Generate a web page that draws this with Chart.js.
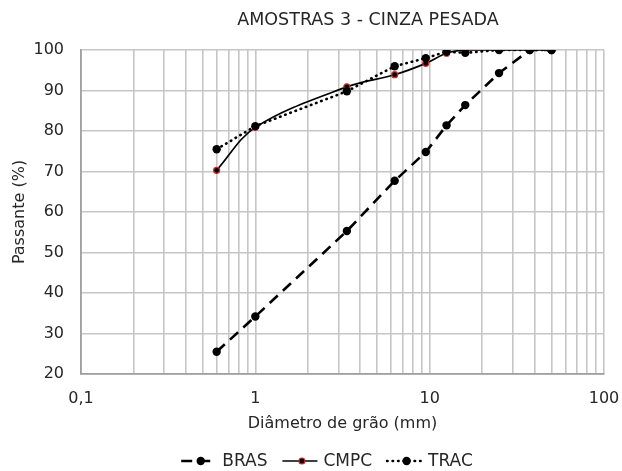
<!DOCTYPE html>
<html>
<head>
<meta charset="utf-8">
<script src="https://cdn.jsdelivr.net/npm/chart.js@4.4.1/dist/chart.umd.min.js"></script>
<style>
html,body{margin:0;padding:0;background:#fff;}
#wrap{width:622px;height:471px;position:relative;}
</style>
</head>
<body>
<div id="wrap"><canvas id="c" width="622" height="471"></canvas></div>
<script>
const chartTitle = 'AMOSTRAS 3 - CINZA PESADA';
const xTitle = 'Diâmetro de grão (mm)';
const yTitle = 'Passante (%)';
const diameters = [0.6, 1, 3.35, 6.3, 9.5, 12.5, 16, 25, 37.5, 50];
const bras = [25.5, 34.2, 55.3, 67.7, 74.8, 81.4, 86.4, 94.3, 100, 100];
const cmpc = [70.3, 80.9, 90.9, 93.9, 96.7, 99.2, 100, 100, 100, 100];
const trac = [75.5, 81.2, 89.8, 96.0, 98.0, 99.6, 99.3, 100, 100, 100];
const seriesNames = ['BRAS', 'CMPC', 'TRAC'];
const majorXTicks = [0.1, 1, 10, 100];
const majorXLabels = ['0,1', '1', '10', '100'];
const yMin = 20, yMax = 100, yStep = 10;

// grid ticks on log axis: 1..9 of each decade
const xGridTicks = [];
[0.1, 1, 10].forEach(d => { for (let k = 1; k < 10; k++) xGridTicks.push(+(k * d).toPrecision(3)); });
xGridTicks.push(100);

const FONT = '"DejaVu Sans", Verdana, sans-serif';
const TXT = '#262626';
const GRID = '#c6c6c6';

function pts(vals) { return diameters.map((d, i) => ({x: d, y: vals[i]})); }

const datasets = [
  {label: seriesNames[0], data: pts(bras), borderColor: '#000', backgroundColor: '#000',
   borderWidth: 2.6, borderDash: [11, 7], tension: 0, pointRadius: 4.2, pointBorderWidth: 0,
   pointBackgroundColor: '#000', order: 3},
  {label: seriesNames[1], data: pts(cmpc), borderColor: '#000', backgroundColor: '#000',
   borderWidth: 1.7, borderDash: [], tension: 0.35, pointRadius: 3, pointBorderWidth: 1.2,
   pointBackgroundColor: '#000', pointBorderColor: '#d02828', order: 2},
  {label: seriesNames[2], data: pts(trac), borderColor: '#000', backgroundColor: '#000',
   borderWidth: 2.6, borderDash: [0.5, 5], borderCapStyle: 'round', tension: 0, pointRadius: 4.2,
   pointBorderWidth: 0, pointBackgroundColor: '#000', order: 1}
];

const titlePlugin = {
  id: 'titlePlugin',
  afterDraw(chart) {
    const ctx = chart.ctx;
    ctx.save();
    ctx.font = '17.5px ' + FONT;
    ctx.fillStyle = TXT;
    ctx.textAlign = 'center';
    ctx.textBaseline = 'middle';
    ctx.fillText(chartTitle, 368, 20);
    ctx.restore();
  }
};

const legendPlugin = {
  id: 'legendPlugin',
  afterDraw(chart) {
    const ctx = chart.ctx;
    ctx.save();
    ctx.font = '17px ' + FONT;
    const symW = 35, gapT = 6, gapItem = 15;
    let total = 0;
    const widths = seriesNames.map(n => ctx.measureText(n).width);
    widths.forEach((w, i) => { total += symW + gapT + w + (i < widths.length - 1 ? gapItem : 0); });
    let x = 327 - total / 2;
    const y = 461;
    datasets.forEach((ds, i) => {
      ctx.save();
      ctx.strokeStyle = ds.borderColor;
      ctx.lineWidth = ds.borderWidth;
      ctx.setLineDash(ds.borderDash || []);
      ctx.lineCap = ds.borderCapStyle || 'butt';
      ctx.beginPath();
      ctx.moveTo(x, y); ctx.lineTo(x + symW, y);
      ctx.stroke();
      ctx.setLineDash([]);
      ctx.beginPath();
      ctx.arc(x + symW / 2 + 2, y, ds.pointRadius, 0, Math.PI * 2);
      ctx.fillStyle = ds.pointBackgroundColor;
      ctx.fill();
      if (ds.pointBorderWidth) {
        ctx.lineWidth = ds.pointBorderWidth;
        ctx.strokeStyle = ds.pointBorderColor;
        ctx.stroke();
      }
      ctx.restore();
      ctx.fillStyle = TXT;
      ctx.textAlign = 'left';
      ctx.textBaseline = 'middle';
      ctx.fillText(seriesNames[i], x + symW + gapT, y + 1);
      x += symW + gapT + widths[i] + gapItem;
    });
    ctx.restore();
  }
};

new Chart(document.getElementById('c'), {
  type: 'line',
  data: {datasets},
  options: {
    responsive: false,
    animation: false,
    devicePixelRatio: 1,
    layout: {padding: {left: 0, right: 18, top: 50, bottom: 28}},
    plugins: {legend: {display: false}, title: {display: false}, tooltip: {enabled: false}},
    scales: {
      x: {
        type: 'logarithmic', min: 0.1, max: 100,
        afterBuildTicks: s => { s.ticks = xGridTicks.map(v => ({value: v})); },
        afterFit: s => { s.height = 69; s.paddingRight = 0; s.paddingLeft = 0; },
        ticks: {
          autoSkip: false, maxRotation: 0, padding: 15, color: TXT,
          font: {family: FONT, size: 16},
          callback: v => { const i = majorXTicks.findIndex(m => Math.abs(m - v) < 1e-9); return i >= 0 ? majorXLabels[i] : ''; }
        },
        grid: {color: GRID, lineWidth: 1.6, drawTicks: false},
        border: {color: '#a0a0a0', width: 1.8},
        title: {display: true, text: xTitle, color: TXT, font: {family: FONT, size: 16}, padding: {top: 0, bottom: 10}}
      },
      y: {
        min: yMin, max: yMax,
        afterFit: s => { s.width = 81; s.paddingTop = 0; s.paddingBottom = 0; },
        ticks: {stepSize: yStep, padding: 17, color: TXT, font: {family: FONT, size: 16}},
        grid: {color: GRID, lineWidth: 1.6, drawTicks: false},
        border: {color: '#a0a0a0', width: 1.8},
        title: {display: true, text: yTitle, color: TXT, font: {family: FONT, size: 16}, padding: {top: 10, bottom: 0}}
      }
    }
  },
  plugins: [titlePlugin, legendPlugin]
});
</script>
</body>
</html>
